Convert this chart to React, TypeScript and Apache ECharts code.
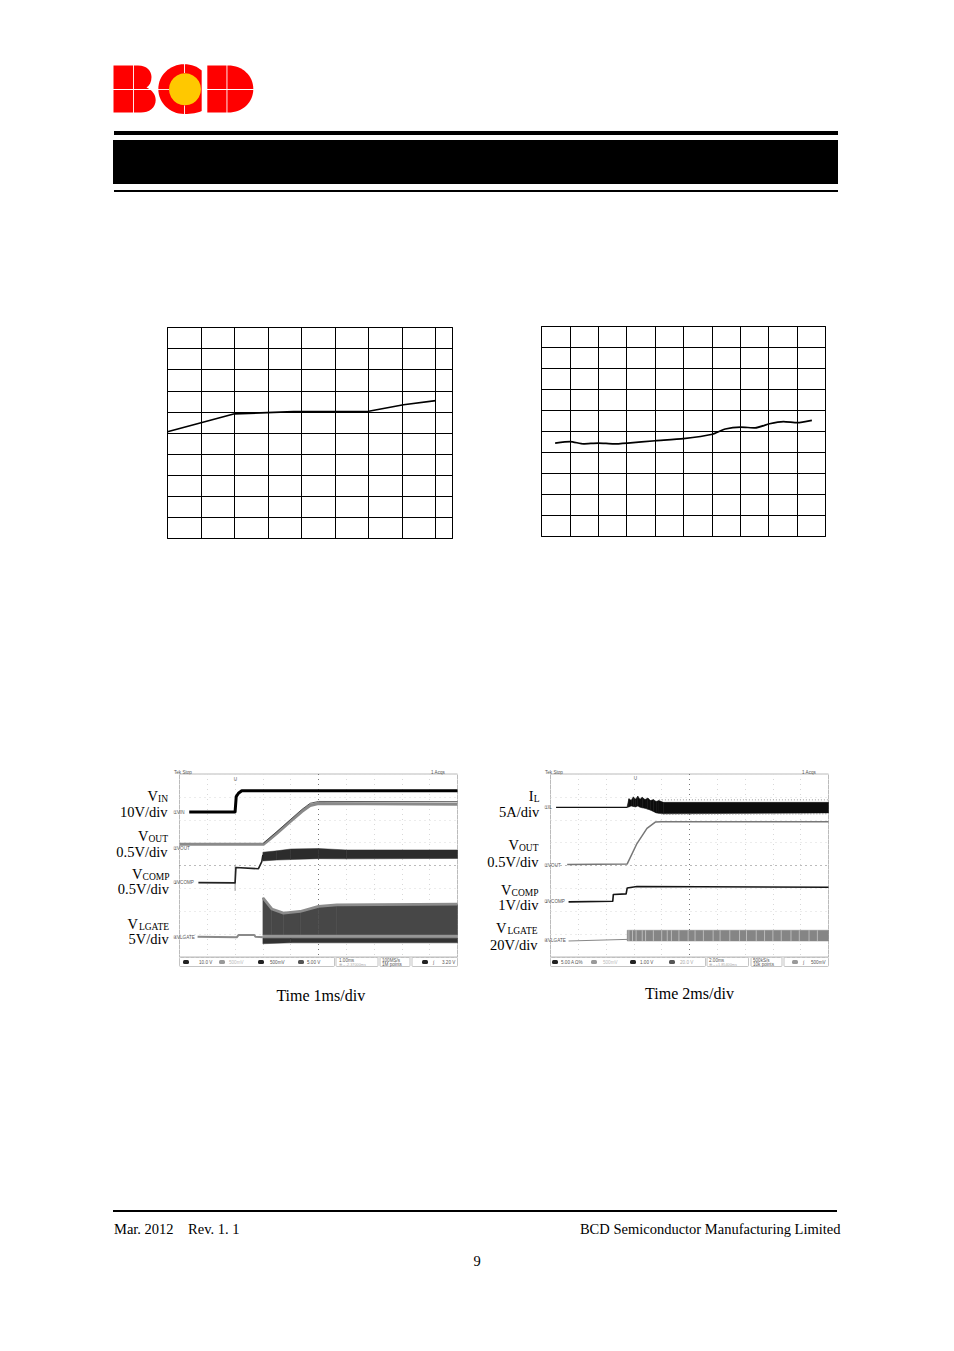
import React, { useEffect, useRef } from "react";
import * as echarts from "echarts";

// --- Panel A / B curves, values read in grid divisions ---
const curveA = [[0, 5.06], [2.0, 5.91], [3.76, 6.01], [6.0, 6.03], [7.04, 6.34], [8.0, 6.53]];
const curveB = [[0.48, 4.45], [1.01, 4.52], [1.48, 4.41], [2.0, 4.45], [2.54, 4.41], [3.03, 4.45], [4.01, 4.56], [5.0, 4.66], [6.02, 4.87], [6.47, 5.12], [7.01, 5.21], [7.52, 5.17], [8.03, 5.37], [8.52, 5.47], [9.01, 5.42], [9.52, 5.53]];

// --- Scope 1 traces, in scope divisions ---
const s1Vin = [[0.35, 6.34], [2.0, 6.34], [2.04, 7.01], [2.12, 7.16], [2.24, 7.27], [10, 7.27]];
const s1Vout = [[0, 4.93], [3.02, 4.93], [3.12, 5.02], [3.5, 5.41], [3.98, 5.92], [4.4, 6.36], [4.7, 6.62], [5.0, 6.71], [10, 6.68]];
const s1VoutEdge = [[3.02, 4.98], [3.5, 5.48], [3.98, 6.0], [4.4, 6.45], [4.7, 6.72], [5.0, 6.8], [10, 6.79]];
const s1Vcomp = [[0.68, 3.25], [2.0, 3.24], [2.03, 3.91], [2.84, 3.86], [2.96, 4.17], [3.0, 4.46]];
const s1CompSpike = [[2.0, 2.89], [2.0, 4.02]];
const s1CompBand = [[3.0, 4.2, 4.58], [3.5, 4.24, 4.64], [4.0, 4.26, 4.72], [5.0, 4.3, 4.74], [6.0, 4.29, 4.68], [10, 4.31, 4.68]];
const s1GateBefore = [[0.65, 0.89], [2.06, 0.86], [2.12, 0.96], [2.69, 0.96], [2.73, 0.89], [3.0, 0.86]];
const s1GateFill = [[3.0, 0.96, 2.59], [3.32, 0.96, 2.08], [3.74, 0.96, 1.9], [4.34, 0.96, 1.97], [5.0, 0.96, 2.19], [5.66, 0.96, 2.26], [10, 0.96, 2.29]];
const s1GateEdge = [[3.0, 2.59], [3.32, 2.1], [3.74, 1.92], [4.34, 1.99], [5.0, 2.21], [5.66, 2.28], [10, 2.31]];
const s1GateMid = [[3.0, 0.82, 0.96], [10, 0.82, 0.96]];
const s1GateLow = [[3.0, 0.58, 0.82], [4.0, 0.62, 0.82], [10, 0.62, 0.82]];

// --- Scope 2 traces, in scope divisions ---
const s2IlFlat = [[0.2, 6.54], [2.76, 6.54]];
const s2IlBand = [
  [2.76, 6.54, 6.6], [2.82, 6.56, 6.92], [2.9, 6.6, 6.85], [2.98, 6.58, 7.0], [3.06, 6.56, 6.9], [3.14, 6.6, 7.03],
  [3.22, 6.55, 6.9], [3.3, 6.52, 6.98], [3.4, 6.5, 6.88], [3.5, 6.46, 6.95], [3.6, 6.42, 6.84], [3.7, 6.36, 6.88],
  [3.8, 6.3, 6.8], [3.9, 6.28, 6.84], [4.06, 6.26, 6.76], [10, 6.3, 6.76],
];
const s2IlNoise = [[3.9, 6.87], [10, 6.87]];
const s2IlNoiseLow = [[4.06, 6.24], [10, 6.26]];
const s2Vout = [[0.6, 4.04], [2.76, 4.07], [3.11, 4.96], [3.47, 5.62], [3.77, 5.9], [4.0, 5.91], [10, 5.91]];
const s2Vcomp = [[0.65, 2.41], [2.24, 2.44], [2.26, 2.73], [2.72, 2.76], [2.76, 3.02], [3.11, 3.08], [10, 3.05]];
const s2GateBefore = [[0.65, 0.7], [2.76, 0.77]];
const s2GateBand = [[2.76, 0.7, 1.17], [10, 0.7, 1.17]];
const s2GateStripes = [2.82, 2.95, 3.08, 3.3, 3.42, 3.7, 4.0, 4.2, 4.35, 4.62, 4.95, 5.2, 5.5, 5.85, 6.1, 6.45, 6.8, 7.05, 7.4, 7.7, 8.0, 8.3, 8.65, 8.95, 9.3, 9.6];

// --- Texts ---
const footerLeft = "Mar. 2012    Rev. 1. 1";
const footerRight = "BCD Semiconductor Manufacturing Limited";
const pageNumber = "9";
const captions = ["Time 1ms/div", "Time 2ms/div"];

const SERIF = '"Liberation Serif", serif';
const SANS = '"Liberation Sans", sans-serif';

const logoB = "M113.5 65.5 H138 C147 65.5 151.5 71 151.5 77 C151.5 82 149.5 85.5 146.5 87.5 C152 90 155.7 94.5 155.7 100 C155.7 108 149 112.5 141 112.5 H113.5 Z";
const logoC = "M184 64.2 C192 64.2 197.5 66.5 201.7 70.5 V111 C197.5 112.8 192 114 184 114 C170 114 158.3 103 158.3 89 C158.3 75 170 64.2 184 64.2 Z";
const logoD = "M207.3 65.5 H228 C243 65.5 253.3 76 253.3 89 C253.3 102 243 112.5 228 112.5 H207.3 Z";
echarts.graphic.registerShape("logoB", echarts.graphic.extendPath(logoB, {}));
echarts.graphic.registerShape("logoC", echarts.graphic.extendPath(logoC, {}));
echarts.graphic.registerShape("logoD", echarts.graphic.extendPath(logoD, {}));

const rect = (x: number, y: number, w: number, h: number, fill: string, extra: any = {}) => ({
  type: "rect", shape: { x, y, width: w, height: h, r: extra.r || 0 },
  style: { fill, stroke: extra.stroke, lineWidth: extra.lineWidth },
});
const text = (x: number, y: number, t: string, size: number, align = "left", fill = "#000", font = SERIF) => ({
  type: "text",
  style: { x, y, text: t, fontSize: size, fontFamily: font, fill, textAlign: align, textVerticalAlign: "middle" },
});
// A main letter with a smaller subscript, as two texts; subWidth is the room kept for the subscript.
const subLabel = (right: number, y: number, main: string, sub: string, subWidth: number) => [
  text(right - subWidth, y, main, 14.5, "right"),
  text(right, y + 3, sub, 9.5, "right"),
];

function buildOption() {
  const chartAxis = (max: number, interval: number) => ({
    type: "value", min: 0, max, interval,
    axisLabel: { show: false }, axisTick: { show: false },
    axisLine: { show: false },
    splitLine: { show: true, lineStyle: { color: "#000", width: 1 } },
  });
  const faint = "#d8d8d8";
  const scopeAxis = (max: number, centre: number) => ({
    type: "value", min: 0, max, interval: 1,
    axisLabel: { show: false }, axisTick: { show: false }, axisLine: { show: false },
    splitLine: {
      show: true,
      lineStyle: {
        type: [1, 4],
        width: 1,
        color: Array.from({ length: max + 1 }, (_, i) => (i === centre ? "#777" : faint)),
      },
    },
  });

  const grid = [
    { left: 167.5, top: 327.5, width: 285, height: 211, borderColor: "#000", show: true, borderWidth: 1 },
    { left: 541.5, top: 326.5, width: 284, height: 210, borderColor: "#000", show: true, borderWidth: 1 },
    { left: 179.5, top: 774, width: 278, height: 183, borderColor: "#bbb", show: true, borderWidth: 1 },
    { left: 550.5, top: 774, width: 278, height: 183, borderColor: "#bbb", show: true, borderWidth: 1 },
  ];
  const xAxis = [chartAxis(8.5, 1), chartAxis(10, 1), scopeAxis(10, 5), scopeAxis(10, 5)].map((a, i) => ({ ...a, gridIndex: i }));
  const yAxis = [chartAxis(10, 1), chartAxis(10, 1), scopeAxis(8, 4), scopeAxis(8, 4)].map((a, i) => ({ ...a, gridIndex: i }));

  const line = (g: number, data: number[][], color: string, width: number, extra: any = {}) => ({
    type: "line", xAxisIndex: g, yAxisIndex: g, data, showSymbol: false, silent: true,
    lineStyle: { color, width, type: extra.type || "solid", join: "round" },
    smooth: extra.smooth || false, z: extra.z || 3,
  });
  const band = (g: number, rows: number[][], color: string) => ({
    type: "custom", xAxisIndex: g, yAxisIndex: g, data: rows, silent: true, clip: false, z: 2,
    renderItem: (p: any, api: any) => {
      const i = p.dataIndex;
      if (i >= rows.length - 1) return null;
      const a = rows[i], b = rows[i + 1];
      const pts = [api.coord([a[0], a[1]]), api.coord([a[0], a[2]]), api.coord([b[0], b[2]]), api.coord([b[0], b[1]])];
      return { type: "polygon", shape: { points: pts }, style: { fill: color, stroke: color, lineWidth: 0.5 } };
    },
  });
  const stripes = (g: number, xs: number[], lo: number, hi: number, color: string) => ({
    type: "custom", xAxisIndex: g, yAxisIndex: g, data: xs.map((x) => [x, lo, hi]), silent: true, clip: false, z: 3,
    renderItem: (_: any, api: any) => {
      const a = api.coord([api.value(0), api.value(1)]);
      const b = api.coord([api.value(0), api.value(2)]);
      return { type: "line", shape: { x1: a[0], y1: a[1], x2: b[0], y2: b[1] }, style: { stroke: color, lineWidth: 0.8 } };
    },
  });

  const series: any[] = [
    line(0, curveA, "#000", 1.7),
    line(1, curveB, "#000", 1.7, { smooth: 0.2 }),
    // Scope 1
    line(2, s1Vin, "#000", 3),
    line(2, s1Vout, "#8a8a8a", 3),
    line(2, s1VoutEdge, "#333", 0.8),
    line(2, s1CompSpike, "#999", 1),
    line(2, s1Vcomp, "#222", 1.6),
    band(2, s1CompBand, "#2c2c2c"),
    band(2, s1GateFill, "#474747"),
    line(2, s1GateEdge, "#8c8c8c", 2.8),
    band(2, s1GateMid, "#969696"),
    band(2, s1GateLow, "#333"),
    line(2, s1GateBefore, "#8a8a8a", 2),
    // Scope 2
    line(3, s2IlFlat, "#111", 1.4),
    line(3, s2IlNoise, "#999", 1, { type: [1, 2] }),
    line(3, s2IlNoiseLow, "#777", 1, { type: [1, 2] }),
    band(3, s2IlBand, "#0d0d0d"),
    line(3, s2Vout, "#777", 1.5),
    line(3, s2Vcomp, "#151515", 1.6),
    line(3, s2GateBefore, "#888", 1),
    band(3, s2GateBand, "#858585"),
    stripes(3, s2GateStripes, 0.7, 1.17, "#c8c8c8"),
  ];

  const tiny = 4.6;
  const grey = "#555";
  const pill = (x: number, y: number, fill = "#222") => rect(x - 3, y - 2, 6, 4, fill, { r: 1.5 });
  const gBox = (x: number, y: number, w: number, h: number) => rect(x, y, w, h, "#fff", { stroke: "#aaa", lineWidth: 0.7, r: 1 });

  const graphic: any[] = [
    // Logo
    { type: "logoB", style: { fill: "#ff0000" } },
    { type: "logoC", style: { fill: "#ff0000" } },
    { type: "logoD", style: { fill: "#ff0000" } },
    { type: "circle", shape: { cx: 185, cy: 89.3, r: 16 }, style: { fill: "#ffc800" } },
    rect(133, 65, 0.9, 48, "#fff"), rect(113, 89, 44, 0.9, "#fff"),
    rect(184, 63.5, 0.9, 9.5, "#fff"), rect(184, 105.5, 0.9, 9, "#fff"),
    rect(158, 89, 11, 0.9, "#fff"),
    rect(226.5, 65, 0.9, 48, "#fff"), rect(207, 89, 47, 0.9, "#fff"),
    // Header rules
    rect(114, 131, 724, 4, "#000"),
    rect(113, 140, 725, 44, "#000"),
    rect(114, 190, 724, 2, "#000"),
    // Footer
    rect(113, 1210, 724, 2, "#000"),
    text(114, 1228.5, footerLeft, 14.5),
    text(840.5, 1228.5, footerRight, 14.5, "right"),
    text(477, 1261, pageNumber, 14.5, "center"),
    // Captions
    text(320.8, 995, captions[0], 16, "center"),
    text(689.5, 993, captions[1], 16, "center"),
    // Left scope labels
    ...subLabel(168, 796, "V", "IN", 10),
    text(167.5, 811.7, "10V/div", 14.5, "right"),
    ...subLabel(168, 836, "V", "OUT", 19.5),
    text(167.5, 852, "0.5V/div", 14.5, "right"),
    ...subLabel(169.5, 874, "V", "COMP", 27),
    text(169, 889, "0.5V/div", 14.5, "right"),
    ...subLabel(169, 924.3, "V", "LGATE", 31),
    text(168.7, 939, "5V/div", 14.5, "right"),
    // Right scope labels
    ...subLabel(539.5, 796, "I", "L", 6),
    text(539.3, 812.3, "5A/div", 14.5, "right"),
    ...subLabel(538.5, 845, "V", "OUT", 19.5),
    text(538.5, 861.7, "0.5V/div", 14.5, "right"),
    ...subLabel(538.5, 890, "V", "COMP", 27),
    text(538.5, 905, "1V/div", 14.5, "right"),
    ...subLabel(537.5, 928.3, "V", "LGATE", 31),
    text(537.5, 945, "20V/div", 14.5, "right"),
    // Scope 1 chrome
    text(174, 772.5, "Tek Stop", tiny, "left", grey, SANS),
    text(431, 772.5, "1 Acqs", tiny, "left", grey, SANS),
    text(235.5, 779.5, "U", tiny, "center", grey, SANS),
    text(173, 812, "①VIN", tiny, "left", grey, SANS),
    text(173, 848, "②VOUT", tiny, "left", grey, SANS),
    text(173, 882, "③VCOMP", tiny, "left", grey, SANS),
    text(173, 937, "④VLGATE", tiny, "left", grey, SANS),
    gBox(179.5, 957.5, 155, 9),
    pill(186, 962), text(199, 962, "10.0 V", tiny, "left", grey, SANS),
    pill(222, 962, "#999"), text(229, 962, "500mV", tiny, "left", "#bbb", SANS),
    pill(261, 962), text(270, 962, "500mV", tiny, "left", grey, SANS),
    pill(301, 962, "#555"), text(307, 962, "5.00 V", tiny, "left", grey, SANS),
    gBox(336, 957.5, 42, 9),
    text(339, 960, "1.00ms", tiny, "left", grey, SANS),
    text(339, 964.5, "⊕→-2.37000ms", 3.8, "left", "#aaa", SANS),
    gBox(380, 957.5, 30, 9),
    text(382, 960, "100MS/s", tiny, "left", grey, SANS),
    text(382, 964.5, "1M points", tiny, "left", grey, SANS),
    gBox(412, 957.5, 45.5, 9),
    pill(425, 962), text(433, 962, "∫", tiny, "left", grey, SANS), text(442, 962, "3.20 V", tiny, "left", grey, SANS),
    // Scope 2 chrome
    text(545, 772.5, "Tek Stop", tiny, "left", grey, SANS),
    text(802, 772.5, "1 Acqs", tiny, "left", grey, SANS),
    text(635.5, 778.5, "U", tiny, "center", grey, SANS),
    text(544, 807, "①IL", tiny, "left", grey, SANS),
    text(544, 865, "②VOUT", tiny, "left", grey, SANS),
    text(544, 901, "③VCOMP", tiny, "left", grey, SANS),
    text(544, 940, "④VLGATE", tiny, "left", grey, SANS),
    gBox(550.5, 957.5, 155, 9),
    pill(555, 962), text(561, 962, "5.00 A Ω%", tiny, "left", grey, SANS),
    pill(594, 962, "#999"), text(603, 962, "500mV", tiny, "left", "#bbb", SANS),
    pill(633, 962), text(640, 962, "1.00 V", tiny, "left", grey, SANS),
    pill(672, 962, "#555"), text(680, 962, "20.0 V", tiny, "left", "#aaa", SANS),
    gBox(707, 957.5, 41.5, 9),
    text(709, 960, "2.00ms", tiny, "left", grey, SANS),
    text(709, 964.5, "⊕→+1.85400ms", 3.8, "left", "#aaa", SANS),
    gBox(751, 957.5, 31, 9),
    text(753, 960, "500kS/s", tiny, "left", grey, SANS),
    text(753, 964.5, "10k points", tiny, "left", grey, SANS),
    gBox(784, 957.5, 44.5, 9),
    pill(795, 962, "#999"), text(803, 962, "∫", tiny, "left", grey, SANS), text(811, 962, "500mV", tiny, "left", grey, SANS),
  ];

  return { animation: false, backgroundColor: "#fff", grid, xAxis, yAxis, series, graphic };
}

export default function App() {
  const ref = useRef<HTMLDivElement>(null);
  useEffect(() => {
    const chart = echarts.init(ref.current!, undefined, { renderer: "svg" });
    chart.setOption(buildOption() as any);
    return () => chart.dispose();
  }, []);
  return <div ref={ref} style={{ position: "absolute", left: 0, top: 0, width: 954, height: 1351 }} />;
}
